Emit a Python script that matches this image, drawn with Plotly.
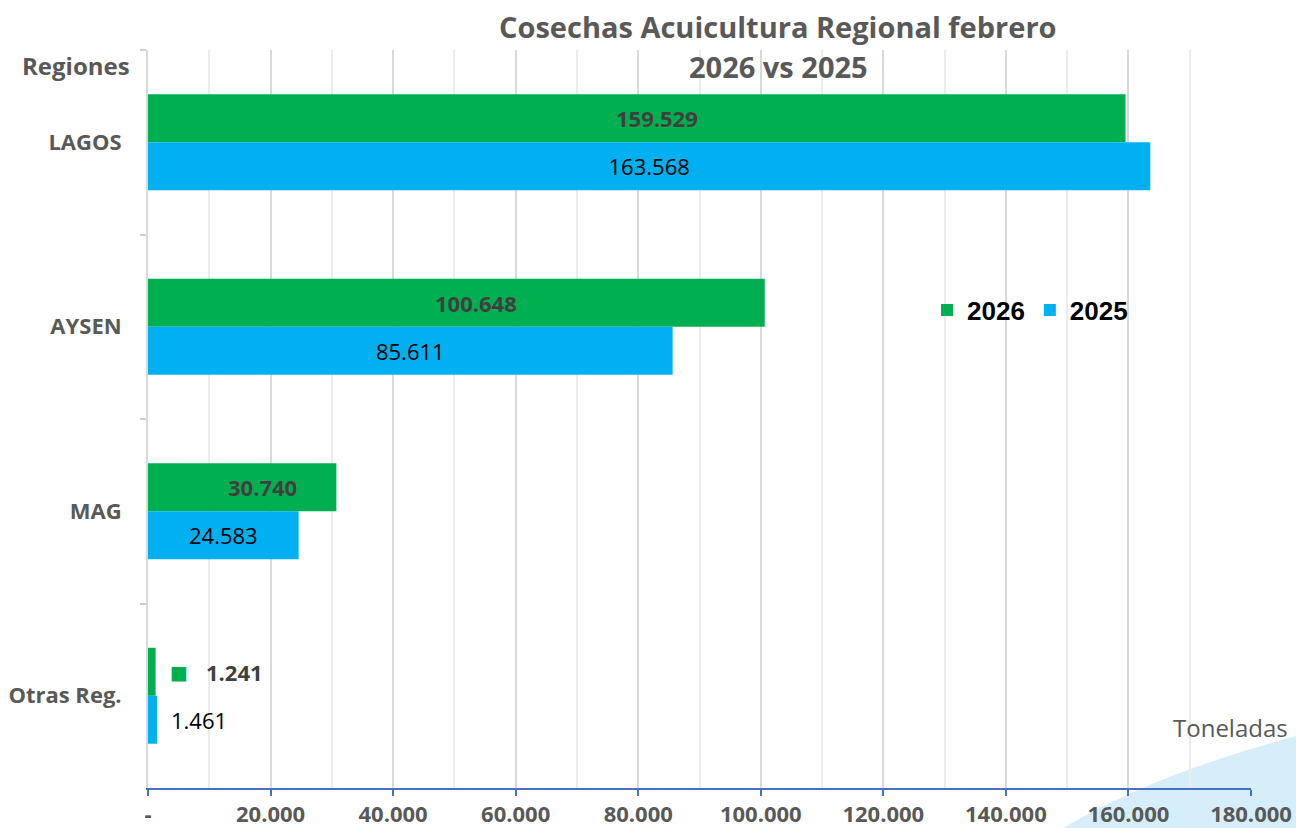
import plotly.graph_objects as go

regions = ["LAGOS", "AYSEN", "MAG", "Otras Reg."]
vals_2026 = [159529, 100648, 30740, 1241]
vals_2025 = [163568, 85611, 24583, 1461]
x_tickvals = [0, 20000, 40000, 60000, 80000, 100000, 120000, 140000, 160000, 180000]
x_ticktext = ["-", "20.000", "40.000", "60.000", "80.000", "100.000", "120.000", "140.000", "160.000", "180.000"]

GREEN = "#00B050"
BLUE = "#00B0F0"
GRAY = "#595959"
DARK = "#3F3F3F"
FONT = "Open Sans"

W, H = 1296, 828
L, T = 148, 50
R = W - 1251
B = H - 788
PW, PH = W - L - R, H - T - B


def px(xp):
    """page x (reference pixels) -> paper x"""
    return (xp - L) / PW


def py(yp):
    """page y (reference pixels) -> paper y"""
    return (H - B - yp) / PH


def fmt(v):
    return f"{v:,}".replace(",", ".")


SMALL = 10000

fig = go.Figure()
fig.add_trace(go.Bar(
    y=regions, x=vals_2026, orientation="h", name="2026",
    marker=dict(color=GREEN, line=dict(width=0)),
))
fig.add_trace(go.Bar(
    y=regions, x=vals_2025, orientation="h", name="2025",
    marker=dict(color=BLUE, line=dict(width=0)),
    text=[fmt(v) if v > SMALL else "" for v in vals_2025], textposition="inside",
    insidetextanchor="middle",
    textfont=dict(family=FONT, size=22, color="black"),
    insidetextfont=dict(family=FONT, size=22, color="black"),
))

annotations = []
for r, v in zip(regions, vals_2026):
    if v > SMALL:
        annotations.append(dict(
            x=v / 2, y=r, xref="x", yref="y", yshift=24, xshift=20,
            text=f"<b>{fmt(v)}</b>", showarrow=False,
            font=dict(family=FONT, size=22, color=DARK),
        ))
    else:
        annotations.append(dict(
            x=v, y=r, xref="x", yref="y", yshift=24, xshift=23, xanchor="center", yanchor="middle",
            text="■", showarrow=False,
            font=dict(family="DejaVu Sans", size=19, color=GREEN),
        ))
        annotations.append(dict(
            x=v, y=r, xref="x", yref="y", yshift=24, xshift=48, xanchor="left", yanchor="middle",
            text=f"<b>{fmt(v)}</b>", showarrow=False,
            font=dict(family=FONT, size=22, color=DARK),
        ))
for r, v in zip(regions, vals_2025):
    if v <= SMALL:
        annotations.append(dict(
            x=v, y=r, xref="x", yref="y", yshift=-24, xshift=12, xanchor="left", yanchor="middle",
            text=fmt(v), showarrow=False,
            font=dict(family=FONT, size=22, color="black"),
        ))

annotations += [
    dict(x=px(778), y=py(27), xref="paper", yref="paper",
         text="<b>Cosechas Acuicultura Regional febrero</b>", showarrow=False,
         xanchor="center", yanchor="middle", font=dict(family=FONT, size=29, color=GRAY)),
    dict(x=px(778), y=py(67), xref="paper", yref="paper",
         text="<b>2026 vs 2025</b>", showarrow=False,
         xanchor="center", yanchor="middle", font=dict(family=FONT, size=29, color=GRAY)),
    dict(x=px(76), y=py(65), xref="paper", yref="paper",
         text="<b>Regiones</b>", showarrow=False, xanchor="center", yanchor="middle",
         font=dict(family=FONT, size=24, color=GRAY)),
    dict(x=px(1290), y=py(727), xref="paper", yref="paper",
         text="Toneladas", showarrow=False, xanchor="right", yanchor="middle",
         font=dict(family=FONT, size=24, color=GRAY)),
]

fig.update_layout(
    width=W, height=H,
    margin=dict(l=L, r=R, t=T, b=B, pad=0, autoexpand=False),
    paper_bgcolor="white", plot_bgcolor="rgba(0,0,0,0)",
    separators=",.",
    barmode="group", bargap=0.48, bargroupgap=0,
    legend=dict(
        orientation="h", x=px(927), y=py(310),
        xanchor="left", yanchor="middle",
        font=dict(family="Liberation Sans", size=26, color="black", weight="bold"),
        bgcolor="rgba(0,0,0,0)", itemwidth=30, traceorder="normal",
    ),
    annotations=annotations,
    xaxis=dict(
        range=[0, 180000], tickvals=x_tickvals, ticktext=x_ticktext,
        showgrid=True, gridcolor="#d9d9d9", gridwidth=2,
        minor=dict(dtick=10000, tick0=0, showgrid=True, gridcolor="#ececec", gridwidth=1.5, ticks=""),
        showline=True, linecolor="#4472C4", linewidth=2,
        ticks="outside", tickcolor="#4472C4", ticklen=6, tickwidth=2,
        tickfont=dict(family=FONT, size=22, color=GRAY, weight="bold"),
        zeroline=False, automargin=False,
    ),
    yaxis=dict(
        categoryorder="array", categoryarray=regions, autorange="reversed",
        showgrid=False, showline=True, linecolor="#d9d9d9", linewidth=2,
        ticks="outside", tickson="boundaries", ticklen=6, tickcolor="#d0d0d0", tickwidth=2,
        ticklabelstandoff=20, automargin=False,
        tickfont=dict(family=FONT, size=22, color=GRAY, weight="bold"),
    ),
    shapes=[dict(
        type="path", xref="paper", yref="paper", layer="below",
        path="M %f %f Q %f %f %f %f L %f %f L %f %f Z" % (
            px(1060), py(830),
            px(1150), py(775),
            px(1300), py(735),
            px(1300), py(830),
            px(1060), py(830),
        ),
        fillcolor="#d6eef9", line=dict(width=0),
    )],
    showlegend=True,
)

fig.write_html(
    "out.html",
    config={"displayModeBar": False},
    post_script="document.body.style.margin='0';document.body.style.overflow='hidden';",
)
